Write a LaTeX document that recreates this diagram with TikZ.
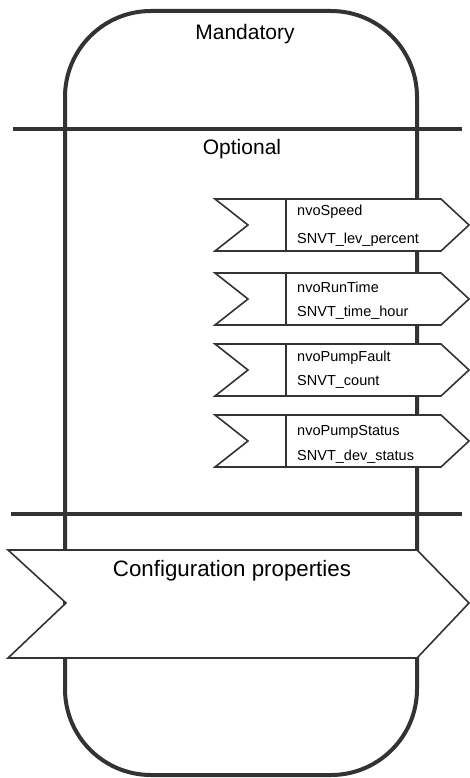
\documentclass[tikz,border=0pt]{standalone}
\usepackage{fontspec}
\setmainfont{Liberation Sans}
\begin{document}
\begin{tikzpicture}[x=1pt,y=-1pt,
  frame/.style={draw=black!80, line width=4pt},
  divider/.style={draw=black!80, line width=3.5pt},
  boxline/.style={draw=black!80, line width=1.6pt, fill=white, line join=miter},
  title/.style={font=\fontsize{21}{24}\selectfont, inner sep=0pt},
  label/.style={font=\fontsize{14.5}{17}\selectfont, inner sep=0pt, anchor=west},
  nvbox/.pic={
    \draw[boxline] (0,0) -- (226,0) -- (254,26) -- (226,52) -- (0,52) -- (33,26) -- cycle;
    \draw[boxline] (71,0) -- (71,52);
  }]
\useasboundingbox (0,0) rectangle (470,778);

% functional block outline
\draw[frame, rounded corners=86pt] (65,11) rectangle (417,775);

% section separators
\draw[divider] (13,129) -- (462,129);
\draw[divider] (11,514) -- (462,514);

\node[title] (mand) at (245,34) {Mandatory};
\node[title] (opt) at (242,149) {Optional};

% output network variables
\pic at (215,199) {nvbox};
\pic at (215,273) {nvbox};
\pic at (215,344) {nvbox};
\pic at (215,415) {nvbox};

\node[label] (n1) at (297,212) {nvoSpeed};
\node[label] (t1) at (297,240) {SNVT\_lev\_percent};
\node[label] (n2) at (297,287) {nvoRunTime};
\node[label] (t2) at (297,313) {SNVT\_time\_hour};
\node[label] (n3) at (297,358) {nvoPumpFault};
\node[label] (t3) at (297,382) {SNVT\_count};
\node[label] (n4) at (297,432) {nvoPumpStatus};
\node[label] (t4) at (297,457) {SNVT\_dev\_status};

% configuration properties banner
\draw[boxline] (8,550) -- (417,550) -- (469,603) -- (417,658) -- (8,658) -- (66,603) -- cycle;
\node[title, font=\fontsize{22.3}{26}\selectfont] (cfg) at (232,571) {Configuration properties};
\end{tikzpicture}
\end{document}
